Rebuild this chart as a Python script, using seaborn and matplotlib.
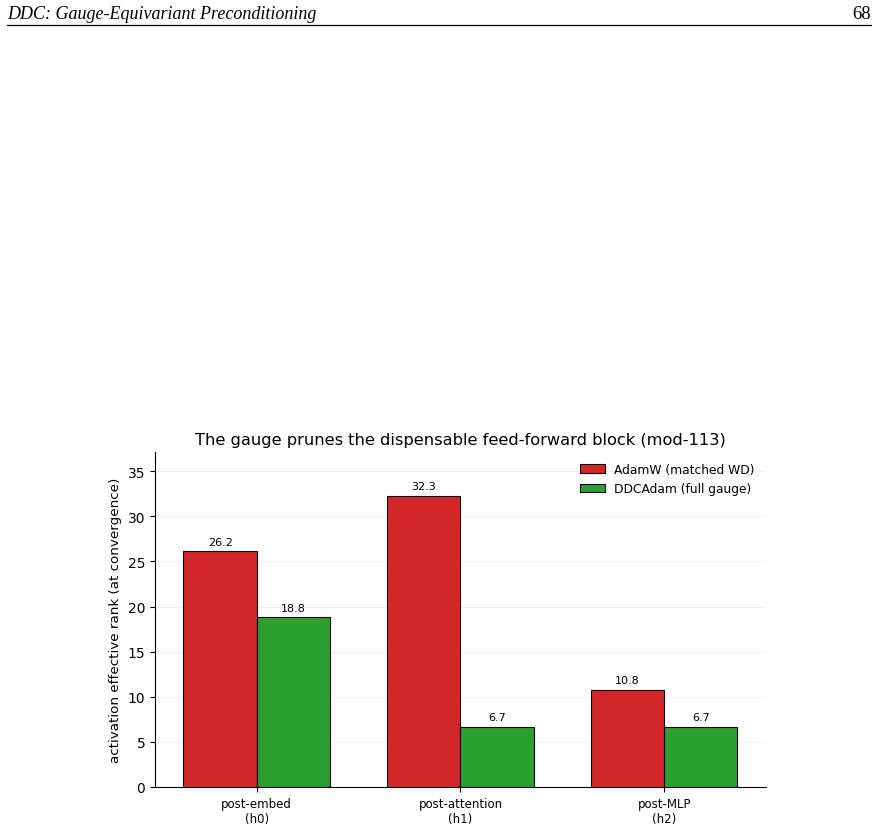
import matplotlib
matplotlib.use("Agg")
import matplotlib.pyplot as plt
import seaborn as sns
import pandas as pd
from matplotlib.lines import Line2D

# Data
stages = ["post-embed\n(h0)", "post-attention\n(h1)", "post-MLP\n(h2)"]
optimizers = ["AdamW (matched WD)", "DDCAdam (full gauge)"]
adamw_rank = [26.2, 32.3, 10.8]
ddcadam_rank = [18.8, 6.7, 6.7]
colors = ["#d62728", "#2ca02c"]

df = pd.DataFrame({
    "stage": stages * 2,
    "optimizer": [optimizers[0]] * 3 + [optimizers[1]] * 3,
    "rank": adamw_rank + ddcadam_rank,
})

sns.set_style("white")
plt.rcParams["font.family"] = ["DejaVu Sans"]
for k in ["text.color", "axes.labelcolor", "xtick.color", "ytick.color", "axes.edgecolor"]:
    plt.rcParams[k] = "black"

fig = plt.figure(figsize=(8.77, 8.29), dpi=100)

# page header
fig.text(0.008, 0.983, "DDC: Gauge-Equivariant Preconditioning", ha="left", va="center",
         fontsize=13, style="italic", family=["Liberation Serif"])
fig.text(0.993, 0.983, "68", ha="right", va="center", fontsize=13.5, family=["Liberation Serif"])
fig.add_artist(Line2D([0.008, 0.993], [0.969, 0.969], color="black", lw=0.9, transform=fig.transFigure))

ax = fig.add_axes([0.1767, 0.0495, 0.6967, 0.4041])
sns.barplot(data=df, x="stage", y="rank", hue="optimizer", palette=colors, width=0.72,
            gap=0, edgecolor="black", linewidth=0.8, saturation=1, ax=ax, zorder=3)

for cont in ax.containers:
    ax.bar_label(cont, fmt="%.1f", padding=3, fontsize=8)

ax.set_xlim(-0.5, 2.5)
ax.set_ylim(0, max(adamw_rank) * 1.15)
ax.set_xlabel("")
ax.set_ylabel("activation effective rank (at convergence)", fontsize=9.7)
ax.set_title("The gauge prunes the dispensable feed-forward block (mod-113)", fontsize=11.7, pad=6)
ax.tick_params(axis="x", labelsize=8.5, length=3.5, bottom=True)
ax.tick_params(axis="y", labelsize=10, length=3.5, left=True)
ax.yaxis.grid(True, alpha=0.3, zorder=0)
ax.set_axisbelow(True)
sns.despine(ax=ax)
ax.legend(frameon=False, fontsize=8.8, loc="upper right")

fig.savefig("out.png", dpi=100)
